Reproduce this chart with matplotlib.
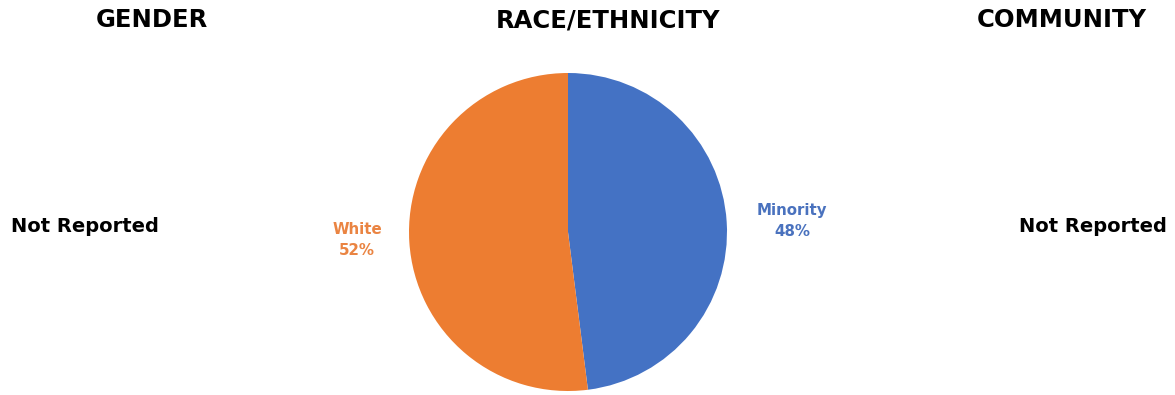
import matplotlib.pyplot as plt

# panel titles
titles = ['GENDER', 'RACE/ETHNICITY', 'COMMUNITY']
missing_text = 'Not Reported'

# race / ethnicity split
groups = ['Minority', 'White']
shares = [48, 52]
colors = ['#4472C4', '#ED7D31']
label_colors = ['#4A72BE', '#EA8442']

plt.rcParams['font.family'] = ['DejaVu Sans']

fig = plt.figure(figsize=(11.75, 3.95), dpi=100)
W, H = 1175, 395

# titles
for t, x in zip(titles, [152, 608, 1062]):
    fig.text(x / W, 1 - 20 / H, t, ha='center', va='center',
             fontsize=17.5, fontweight='bold', color='black')

# not reported panels
fig.text(85 / W, 1 - 227 / H, missing_text, ha='center', va='center',
         fontsize=14, fontweight='bold', color='black')
fig.text(1093 / W, 1 - 227 / H, missing_text, ha='center', va='center',
         fontsize=14, fontweight='bold', color='black')

# pie
cx, cy, r = 568, 232, 159
ax = fig.add_axes([(cx - r) / W, (H - cy - r) / H, 2 * r / W, 2 * r / H])
ax.pie(shares, colors=colors, startangle=90, counterclock=False,
       wedgeprops=dict(linewidth=0))
ax.set_xlim(-1, 1)
ax.set_ylim(-1, 1)
ax.set_aspect('auto')
ax.axis('off')

label_pos = [((792 - cx) / r, (cy - 221) / r), ((357 - cx) / r, (cy - 240) / r)]
for g, s, c, (lx, ly) in zip(groups, shares, label_colors, label_pos):
    ax.text(lx, ly, f'{g}\n{s}%', ha='center', va='center', fontsize=10.8,
            fontweight='bold', color=c, linespacing=1.5, clip_on=False)

fig.savefig('out.png', dpi=100)
